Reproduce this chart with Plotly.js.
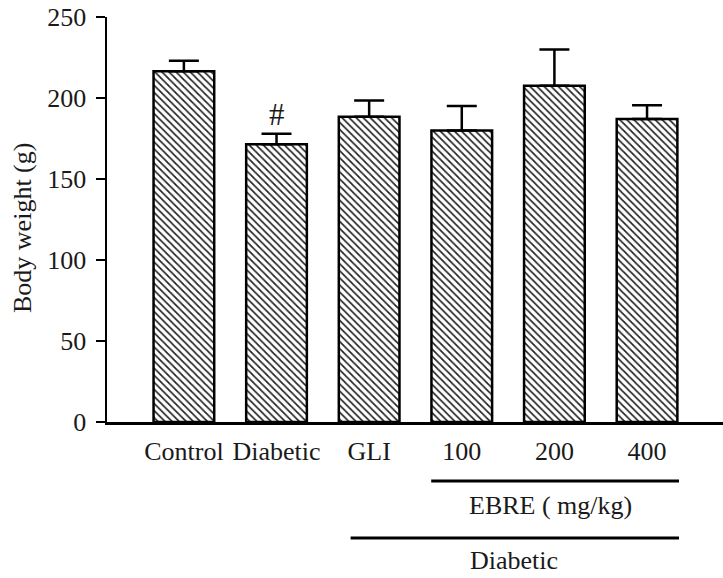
<!DOCTYPE html>
<html>
<head>
<meta charset="utf-8">
<script src="https://cdn.plot.ly/plotly-3.0.1.min.js"></script>
<style>html,body{margin:0;padding:0;background:#fff;}#chart{width:723px;height:578px;}</style>
</head>
<body>
<div id="chart"></div>
<script>
const categories = ["Control", "Diabetic", "GLI", "100", "200", "400"];
const bodyWeight = [216.5, 171.5, 188.5, 180, 207.5, 187];
const sem = [6.5, 6.5, 10, 15, 22.5, 8.5];
const significanceMark = "#";
const significanceIndex = 1;
const yTicks = [0, 50, 100, 150, 200, 250];
const groupLabelEBRE = "EBRE ( mg/kg)";
const groupLabelDiabetic = "Diabetic";
const yTitle = "Body weight (g)";

const FONT = "Liberation Serif, Times New Roman, serif";
const TXT = "#1a1a1a";
const FS = 26;

const trace = {
  type: "bar",
  x: categories,
  y: bodyWeight,
  width: 0.655,
  marker: {
    color: "#ffffff",
    line: {color: "#000", width: 2.5},
    pattern: {shape: "\\", fgcolor: "#222", bgcolor: "#ffffff", size: 5, solidity: 0.34}
  },
  error_y: {
    type: "data",
    symmetric: false,
    array: sem,
    arrayminus: sem.map(() => 0),
    color: "#000",
    thickness: 2.5,
    width: 15
  },
  hoverinfo: "skip"
};

const plotW = 723 - 107, plotH = 578 - 17 - 156;

const layout = {
  width: 723,
  height: 578,
  margin: {l: 107, r: 0, t: 17, b: 156},
  paper_bgcolor: "#fff",
  plot_bgcolor: "#fff",
  showlegend: false,
  font: {family: FONT, size: FS, color: TXT},
  xaxis: {
    type: "category",
    range: [-0.83, 5.82],
    showline: true,
    linecolor: "#000",
    linewidth: 2.5,
    ticks: "",
    showgrid: false,
    zeroline: false,
    tickfont: {family: FONT, size: FS, color: TXT},
    ticklabelstandoff: 4,
    fixedrange: true
  },
  yaxis: {
    range: [0, 250],
    tickvals: yTicks,
    ticktext: yTicks.map(String),
    showline: true,
    linecolor: "#000",
    linewidth: 2.5,
    ticks: "outside",
    ticklen: 9,
    tickwidth: 2.5,
    tickcolor: "#000",
    showgrid: false,
    zeroline: false,
    tickfont: {family: FONT, size: FS, color: TXT},
    ticklabelstandoff: 4,
    fixedrange: true
  },
  shapes: [
    {type: "line", xref: "x", yref: "paper", x0: 2.67, x1: 5.345, y0: -0.1457, y1: -0.1457, line: {color: "#000", width: 3}},
    {type: "line", xref: "x", yref: "paper", x0: 1.8, x1: 5.345, y0: -0.2864, y1: -0.2864, line: {color: "#000", width: 3}}
  ],
  annotations: [
    {text: significanceMark, x: categories[significanceIndex], y: bodyWeight[significanceIndex] + sem[significanceIndex], yshift: 0,
     xref: "x", yref: "y", yanchor: "bottom", showarrow: false, font: {family: FONT, size: 31, color: TXT}},
    {text: groupLabelEBRE, x: 3.96, y: -0.205, xref: "x", yref: "paper", xanchor: "center", yanchor: "middle",
     showarrow: false, font: {family: FONT, size: FS, color: TXT}},
    {text: groupLabelDiabetic, x: 3.56, y: -0.341, xref: "x", yref: "paper", xanchor: "center", yanchor: "middle",
     showarrow: false, font: {family: FONT, size: FS, color: TXT}},
    {text: yTitle, x: (22 - 107) / plotW, y: (422 - 228) / plotH, xref: "paper", yref: "paper",
     xanchor: "center", yanchor: "middle", showarrow: false, textangle: -90,
     font: {family: FONT, size: FS, color: TXT}}
  ]
};

Plotly.newPlot("chart", [trace], layout, {staticPlot: true, displayModeBar: false});
</script>
</body>
</html>
